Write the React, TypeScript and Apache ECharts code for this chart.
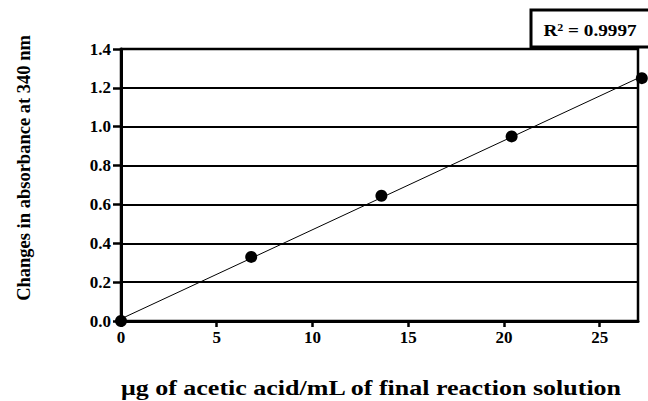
import React, { useEffect, useRef } from "react";
import * as echarts from "echarts";

const xValues = [0, 6.8, 13.6, 20.4, 27.2];
const yValues = [0, 0.33, 0.645, 0.95, 1.25];
const xTickValues = [0, 5, 10, 15, 20, 25];
const rSquaredLabel = "0.9997";
const xTitle = "\u03bcg of acetic acid/mL of final reaction solution";
const yTitle = "Changes in absorbance at 340 nm";

const FONT = '"Liberation Serif", "Times New Roman", serif';

function fitLine(xs: number[], ys: number[]) {
  const n = xs.length;
  const mx = xs.reduce((a, b) => a + b, 0) / n;
  const my = ys.reduce((a, b) => a + b, 0) / n;
  let sxy = 0;
  let sxx = 0;
  for (let i = 0; i < n; i++) {
    sxy += (xs[i] - mx) * (ys[i] - my);
    sxx += (xs[i] - mx) * (xs[i] - mx);
  }
  const slope = sxy / sxx;
  const intercept = my - slope * mx;
  const x0 = Math.min(...xs);
  const x1 = Math.max(...xs);
  return [
    [x0, intercept + slope * x0],
    [x1, intercept + slope * x1],
  ];
}

export default function App() {
  const ref = useRef<HTMLDivElement>(null);
  useEffect(() => {
    if (!ref.current) return;
    const chart = echarts.init(ref.current, undefined, { renderer: "svg" });
    const points = xValues.map((x, i) => [x, yValues[i]]);
    chart.setOption({
      animation: false,
      backgroundColor: "#fff",
      grid: {
        left: 121,
        right: 10,
        top: 49,
        bottom: 80,
        show: true,
        borderColor: "#000",
        borderWidth: 2.5,
        backgroundColor: "transparent",
      },
      xAxis: {
        type: "value",
        min: 0,
        max: 27,
        interval: 5,
        axisLine: { show: true, lineStyle: { color: "#000", width: 3 } },
        axisTick: {
          show: true,
          length: 6,
          lineStyle: { color: "#000", width: 2.5 },
          customValues: xTickValues,
        },
        axisLabel: {
          customValues: xTickValues,
          fontFamily: FONT,
          fontWeight: "bold",
          fontSize: 17,
          color: "#000",
          margin: 8,
        },
        splitLine: { show: false },
      },
      yAxis: {
        type: "value",
        min: 0,
        max: 1.4,
        interval: 0.2,
        axisLine: { show: true, lineStyle: { color: "#000", width: 3 } },
        axisTick: { show: true, length: 8, lineStyle: { color: "#000", width: 2.5 } },
        axisLabel: {
          formatter: (v: number) => v.toFixed(1),
          fontFamily: FONT,
          fontWeight: "bold",
          fontSize: 17,
          color: "#000",
          margin: 10,
        },
        splitLine: { show: true, lineStyle: { color: "#000", width: 2 } },
      },
      series: [
        {
          type: "line",
          data: fitLine(xValues, yValues),
          showSymbol: false,
          symbol: "none",
          clip: false,
          lineStyle: { color: "#000", width: 1 },
          z: 3,
        },
        {
          type: "scatter",
          data: points,
          symbol: "circle",
          symbolSize: 12,
          clip: false,
          itemStyle: { color: "#000", opacity: 1 },
          z: 4,
        },
      ],
      graphic: [
        {
          type: "text",
          x: 371,
          y: 388,
          scaleX: 1.3,
          style: {
            text: xTitle,
            align: "center",
            verticalAlign: "middle",
            fontFamily: FONT,
            fontWeight: "bold",
            fontSize: 20,
            fill: "#000",
          },
        },
        {
          type: "text",
          x: 24,
          y: 168,
          rotation: Math.PI / 2,
          style: {
            text: yTitle,
            align: "center",
            verticalAlign: "middle",
            fontFamily: FONT,
            fontWeight: "bold",
            fontSize: 18.5,
            fill: "#000",
          },
        },
        {
          type: "rect",
          shape: { x: 531, y: 10, width: 130, height: 37 },
          style: { fill: "#fff", stroke: "#000", lineWidth: 3 },
          z: 10,
        },
        {
          type: "text",
          x: 590,
          y: 31,
          scaleX: 1.2,
          z: 11,
          style: {
            text: "{r|R}{s|2}{r| = " + rSquaredLabel + "}",
            align: "center",
            verticalAlign: "middle",
            rich: {
              r: { fontFamily: FONT, fontWeight: "bold", fontSize: 16, fill: "#000" },
              s: {
                fontFamily: FONT,
                fontWeight: "bold",
                fontSize: 10,
                fill: "#000",
                verticalAlign: "top",
                padding: [0, 0, 8, 0],
              },
            },
          },
        },
      ],
    });
    return () => chart.dispose();
  }, []);
  return (
    <div
      ref={ref}
      style={{ position: "absolute", left: 0, top: 0, width: 648, height: 401 }}
    />
  );
}
